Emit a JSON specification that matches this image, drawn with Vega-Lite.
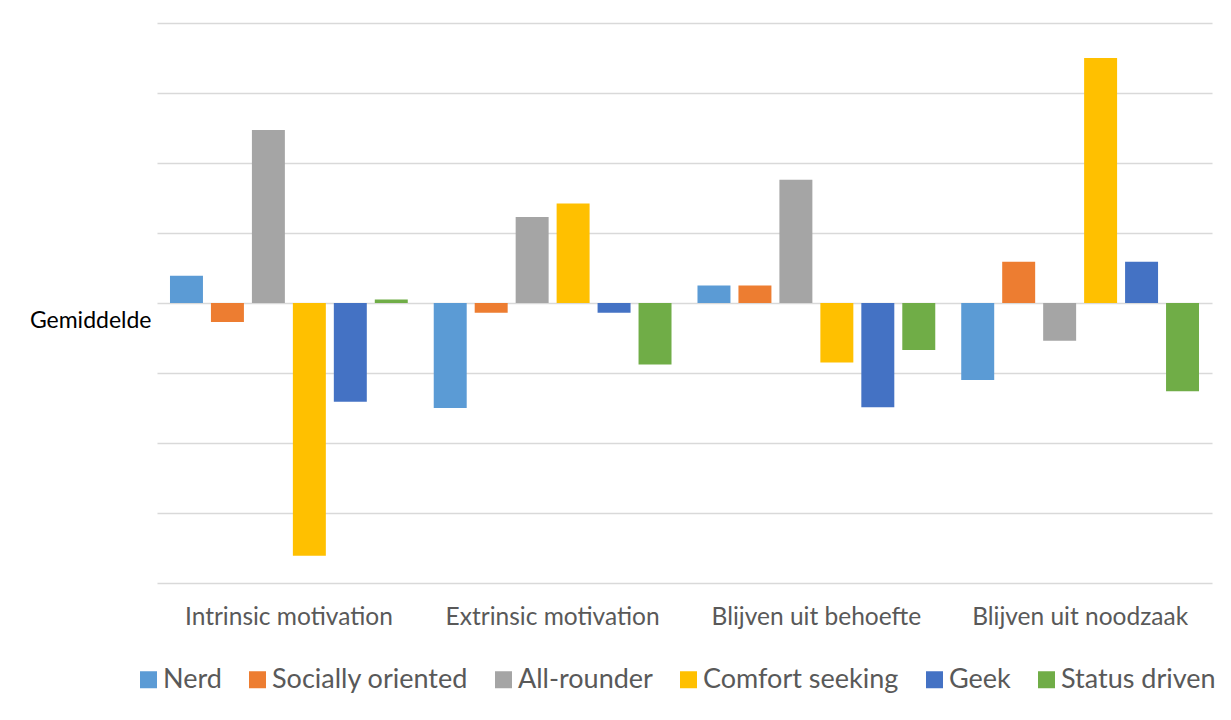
{
  "$schema": "https://vega.github.io/schema/vega-lite/v6.json",
  "autosize": {"type": "none"},
  "width": 1055,
  "height": 560,
  "padding": {"left": 157, "top": 23, "right": 19, "bottom": 137},
  "background": "white",
  "config": {
    "view": {"stroke": null},
    "font": "Lato",
    "axis": {"labelFont": "Lato", "titleFont": "Lato"},
    "legend": {"labelFont": "Lato"}
  },
  "data": {
    "values": [
      {"categorie": "Intrinsic motivation", "profiel": "Nerd", "score": 0.39},
      {"categorie": "Intrinsic motivation", "profiel": "Socially oriented", "score": -0.27},
      {"categorie": "Intrinsic motivation", "profiel": "All-rounder", "score": 2.47},
      {"categorie": "Intrinsic motivation", "profiel": "Comfort seeking", "score": -3.61},
      {"categorie": "Intrinsic motivation", "profiel": "Geek", "score": -1.41},
      {"categorie": "Intrinsic motivation", "profiel": "Status driven", "score": 0.05},
      {"categorie": "Extrinsic motivation", "profiel": "Nerd", "score": -1.5},
      {"categorie": "Extrinsic motivation", "profiel": "Socially oriented", "score": -0.14},
      {"categorie": "Extrinsic motivation", "profiel": "All-rounder", "score": 1.23},
      {"categorie": "Extrinsic motivation", "profiel": "Comfort seeking", "score": 1.42},
      {"categorie": "Extrinsic motivation", "profiel": "Geek", "score": -0.14},
      {"categorie": "Extrinsic motivation", "profiel": "Status driven", "score": -0.88},
      {"categorie": "Blijven uit behoefte", "profiel": "Nerd", "score": 0.25},
      {"categorie": "Blijven uit behoefte", "profiel": "Socially oriented", "score": 0.25},
      {"categorie": "Blijven uit behoefte", "profiel": "All-rounder", "score": 1.76},
      {"categorie": "Blijven uit behoefte", "profiel": "Comfort seeking", "score": -0.85},
      {"categorie": "Blijven uit behoefte", "profiel": "Geek", "score": -1.49},
      {"categorie": "Blijven uit behoefte", "profiel": "Status driven", "score": -0.67},
      {"categorie": "Blijven uit noodzaak", "profiel": "Nerd", "score": -1.1},
      {"categorie": "Blijven uit noodzaak", "profiel": "Socially oriented", "score": 0.59},
      {"categorie": "Blijven uit noodzaak", "profiel": "All-rounder", "score": -0.54},
      {"categorie": "Blijven uit noodzaak", "profiel": "Comfort seeking", "score": 3.5},
      {"categorie": "Blijven uit noodzaak", "profiel": "Geek", "score": 0.59},
      {"categorie": "Blijven uit noodzaak", "profiel": "Status driven", "score": -1.26}
    ]
  },
  "mark": {"type": "bar"},
  "encoding": {
    "x": {
      "field": "categorie",
      "type": "nominal",
      "sort": null,
      "scale": {"paddingInner": 0, "paddingOuter": 0},
      "axis": {
        "title": null,
        "labelAngle": 0,
        "ticks": false,
        "domain": false,
        "labelFontSize": 24.5,
        "labelColor": "#595959",
        "labelPadding": 22,
        "labelLimit": 400
      }
    },
    "xOffset": {
      "field": "profiel",
      "type": "nominal",
      "sort": null,
      "scale": {"paddingInner": 0.195, "paddingOuter": 0.317}
    },
    "y": {
      "field": "score",
      "type": "quantitative",
      "scale": {"domain": [-4, 4], "nice": false, "zero": true},
      "axis": {
        "title": null,
        "values": [-4, -3, -2, -1, 0, 1, 2, 3, 4],
        "labelExpr": "datum.value == 0 ? 'Gemiddelde' : ''",
        "labelFontSize": 23,
        "labelColor": "#000000",
        "labelPadding": 6,
        "labelBaseline": "top",
        "labelAlign": "right",
        "labelOffset": 6,
        "labelLimit": 300,
        "ticks": false,
        "domain": false,
        "grid": true,
        "gridColor": "#d9d9d9",
        "gridWidth": 1.4
      }
    },
    "color": {
      "field": "profiel",
      "type": "nominal",
      "sort": null,
      "scale": {
        "domain": ["Nerd", "Socially oriented", "All-rounder", "Comfort seeking", "Geek", "Status driven"],
        "range": ["#5B9BD5", "#ED7D31", "#A5A5A5", "#FFC000", "#4472C4", "#70AD47"]
      },
      "legend": {
        "title": null,
        "orient": "none",
        "direction": "horizontal",
        "legendX": -22,
        "legendY": 643,
        "symbolType": "square",
        "symbolSize": 289,
        "symbolStrokeWidth": 0,
        "symbolOpacity": 1,
        "labelFontSize": 27,
        "labelColor": "#595959",
        "labelOffset": 1,
        "labelLimit": 400,
        "columnPadding": 22
      }
    }
  }
}
